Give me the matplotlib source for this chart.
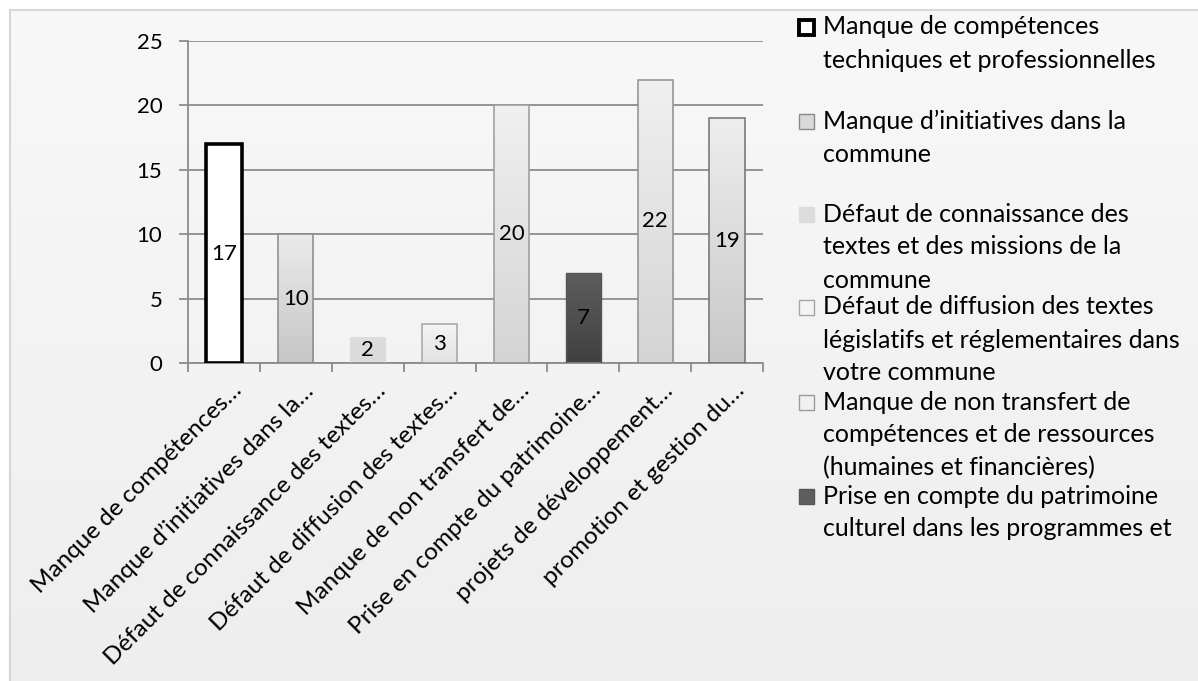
import numpy as np
import matplotlib.pyplot as plt
from matplotlib.patches import Rectangle
from matplotlib.colors import LinearSegmentedColormap
from matplotlib.transforms import ScaledTranslation

plt.rcParams['font.family'] = ['Lato', 'DejaVu Sans']

# categories as shown under the axis (truncated) and the legend wording
tick_labels = [
    "Manque de compétences…",
    "Manque d’initiatives dans la…",
    "Défaut de connaissance des textes…",
    "Défaut de diffusion des textes…",
    "Manque de non transfert de…",
    "Prise en compte du patrimoine…",
    "projets de développement…",
    "promotion et gestion du…",
]
legend_labels = [
    ["Manque de compétences", "techniques et professionnelles"],
    ["Manque d’initiatives dans la", "commune"],
    ["Défaut de connaissance des", "textes et des missions de la", "commune"],
    ["Défaut de diffusion des textes", "législatifs et réglementaires dans", "votre commune"],
    ["Manque de non transfert de", "compétences et de ressources", "(humaines et financières)"],
    ["Prise en compte du patrimoine", "culturel dans les programmes et"],
]
values = [17, 10, 2, 3, 20, 7, 22, 19]

# per bar: gradient top colour, bottom colour, edge colour, edge width
bar_top = ["#ffffff", "#ebebeb", "#dcdcdc", "#f4f4f4", "#f0f0f0", "#5e5e5e", "#f0f0f0", "#eeeeee"]
bar_bot = ["#ffffff", "#c6c6c6", "#dcdcdc", "#e2e2e2", "#d4d4d4", "#404040", "#d4d4d4", "#c8c8c8"]
bar_edge = ["#000000", "#8a8a8a", "#dcdcdc", "#a6a6a6", "#9a9a9a", "#555555", "#8f8f8f", "#707070"]
bar_lw = [2.6, 1.1, 0.5, 1.1, 1.1, 1.0, 1.1, 1.1]

W, H = 1198, 681
fig = plt.figure(figsize=(W / 100, H / 100), dpi=100)
fig.patch.set_facecolor("white")

# chart area background with a soft vertical gradient and a thin border
bg = fig.add_axes([10 / W, 0, 1 - 10 / W, 1 - 10 / H])
bg.imshow(np.linspace(0, 1, 256).reshape(-1, 1),
          cmap=LinearSegmentedColormap.from_list("bg", ["#f8f8f8", "#eeeeee"]),
          aspect="auto", extent=[0, 1, 0, 1], origin="upper")
bg.set_xlim(0, 1)
bg.set_ylim(0, 1)
for s in ["top", "left"]:
    bg.spines[s].set_color("#d6d6d6")
    bg.spines[s].set_linewidth(1.5)
for s in ["bottom", "right"]:
    bg.spines[s].set_visible(False)
bg.set_xticks([])
bg.set_yticks([])

ax = fig.add_axes([188 / W, 1 - 363 / H, (763 - 188) / W, (363 - 41) / H])
ax.patch.set_alpha(0)
ax.set_yticks(range(0, 26, 5))
ax.yaxis.grid(True, color="#8c8c8c", linewidth=1.3)
ax.set_axisbelow(True)
for s in ["top", "right"]:
    ax.spines[s].set_visible(False)
for s in ["left", "bottom"]:
    ax.spines[s].set_color("#8c8c8c")
    ax.spines[s].set_linewidth(1.3)
ax.tick_params(axis="y", length=6.5, width=1.3, color="#8c8c8c", labelsize=16, pad=12)

ax.set_xticks(range(len(values)))
ax.set_xticks(np.arange(-0.5, len(values), 1.0), minor=True)
ax.tick_params(axis="x", which="major", length=0, pad=12)
ax.tick_params(axis="x", which="minor", length=6.5, width=1.3, color="#8c8c8c")
ax.set_xticklabels(tick_labels, rotation=45, ha="right", va="top", rotation_mode="anchor", fontsize=17.5)
# nudge the slanted labels so their ends sit just right of each category centre
shift = ScaledTranslation(7 / 100, 0, fig.dpi_scale_trans)
for lab in ax.get_xticklabels():
    lab.set_transform(lab.get_transform() + shift)

grad = np.linspace(0, 1, 256).reshape(-1, 1)
bw = 0.49
for i, v in enumerate(values):
    bars = ax.bar(i, v, width=bw, facecolor="none", edgecolor=bar_edge[i], linewidth=bar_lw[i], zorder=3)
    im = ax.imshow(grad, cmap=LinearSegmentedColormap.from_list("g%d" % i, [bar_top[i], bar_bot[i]]),
                   aspect="auto", origin="upper", extent=[i - bw / 2, i + bw / 2, 0, v], zorder=2)
    im.set_clip_path(bars[0])
    ax.text(i, v / 2, str(v), ha="center", va="center", fontsize=16, color="black", zorder=4)
ax.set_xlim(-0.5, len(values) - 0.5)
ax.set_ylim(0, 25)

# legend drawn by hand so the wrapped lines sit where they belong
entry_top = [27, 121, 214, 307, 402, 496]
line_h = 33
for k, lines in enumerate(legend_labels):
    yc = entry_top[k]
    sq = Rectangle((799 / W, 1 - (yc + 8) / H), 15 / W, 15 / H, transform=fig.transFigure,
                   facecolor=bar_top[k] if k != 1 else "#d9d9d9", edgecolor=bar_edge[k],
                   linewidth=2.8 if k == 0 else 1.0)
    fig.patches.append(sq)
    for j, line in enumerate(lines):
        fig.text(823 / W, 1 - (yc + j * line_h) / H, line, ha="left", va="center", fontsize=18, color="black")

fig.savefig("out.png", dpi=100)
